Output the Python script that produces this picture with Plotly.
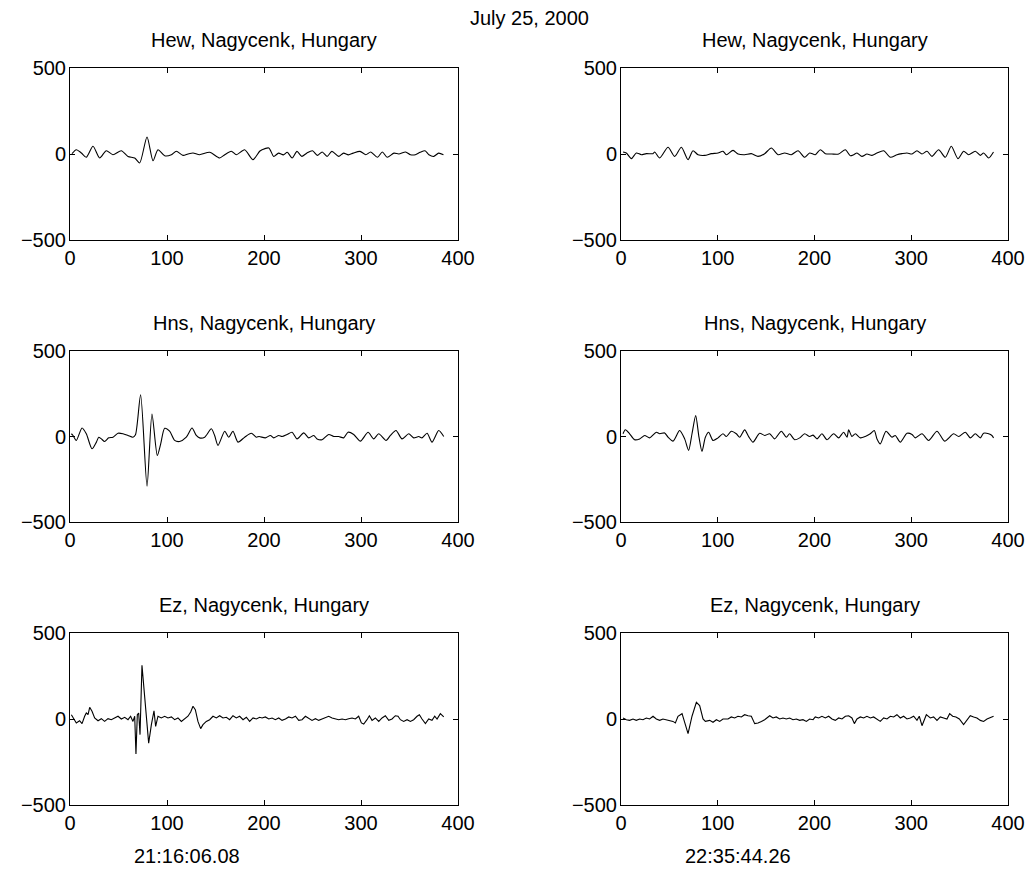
import plotly.graph_objects as go

# ---------------- data ----------------
date_label = "July 25, 2000"
titles = ["Hew, Nagycenk, Hungary", "Hew, Nagycenk, Hungary",
          "Hns, Nagycenk, Hungary", "Hns, Nagycenk, Hungary",
          "Ez, Nagycenk, Hungary", "Ez, Nagycenk, Hungary"]
time_labels = ["21:16:06.08", "22:35:44.26"]
x_ticks = [0, 100, 200, 300, 400]
y_ticks = [-500, 0, 500]

hew_l_x = [2, 6.5, 11.7, 16.8, 23.7, 30.6, 37.4, 44.3, 52.9, 59.8, 66.7, 71.8, 79.4, 85.6, 90.7,
           97.6, 104.5, 109.6, 116.5, 121.6, 126.8, 133.6, 144, 154.3, 159.5, 166.3, 171.5, 180,
           188.6, 195.5, 198, 205, 210, 215, 220, 224, 229, 234, 239, 244, 250, 255, 260, 265,
           270, 277, 282, 287, 292, 299, 305, 310, 317, 322, 327, 334, 339, 346, 351, 356, 361,
           366, 370, 375, 380, 385]
hew_l_y = [2, 25, 6, -19, 45, -23, 19, -4, 19, -14, -23, -52, 99, -39, 25,
           -10, -4, 16, -8, 0, 6, -4, 10, -23, -4, 16, -4, 25,
           -33, 16, 25, 35, -14, 5, -5, 10, -23, 15, -14, 5, 19, -8, 12, -14,
           15, -14, 5, -5, 5, 15, -4, 12, -19, 12, -19, 5, 0, 12, -4, -4, 10,
           19, -4, -14, 5, -4]

hew_r_x = [2.1, 5.5, 10.7, 15.8, 21, 26.2, 33, 34.8, 40, 48.6, 55.5, 62.4, 69.3, 74.4, 79.6,
           86.5, 93.4, 100.3, 105.4, 108.9, 115.8, 121, 127.8, 134.7, 141.6, 148.5, 155.4,
           162.3, 169.2, 176, 183, 189.8, 195, 200.8, 206, 211.2, 218, 225, 231.9, 237, 240.5,
           243.9, 249, 254.2, 259.4, 264.6, 271.5, 278.4, 285.3, 290.4, 295.6, 300.8, 305.9,
           311.1, 316.3, 321.4, 328.3, 335.2, 341.4, 348.3, 354.2, 359.3, 366.2, 371.4, 374.8,
           380, 385]
hew_r_y = [12, 6, -27, 6, -4, 2, 2, 12, -23, 39, -14, 39, -33, 19, -4,
           -8, 2, 6, 16, -4, 21, 0, -4, 2, -14, 2, 35,
           -4, 6, -4, 19, -19, 6, -4, 25, 2, 0, 0, 25, -10, -4,
           6, -14, 0, -8, 6, 19, -19, -4, 2, 6, 0, 19,
           0, 16, -14, 25, -19, 45, -27, 16, -4, 16, -8, 6,
           -23, 12]

hns_l_x = [1.4, 3.1, 6.5, 12.4, 16.8, 22.7, 27.2, 29.6, 32.3, 35.7, 39.9, 44.3, 49.5, 54.6,
           59.8, 64.9, 67.5, 72.8, 79.4, 84.5, 90, 93.5, 97.6, 102.7, 107.9, 113, 119.9, 125.8,
           130.2, 133.6, 138.8, 145.7, 149.1, 152.6, 159.5, 163.6, 168, 173.2, 180.1, 186.9,
           192.1, 195, 201.4, 206.6, 210, 215.2, 218.6, 223.8, 228.9, 234.1, 241, 246.1, 251.3,
           254.7, 259.8, 266.7, 271.9, 277, 282.2, 286.6, 292.5, 299.4, 307.3, 313.1, 318.3,
           325.8, 330.3, 336.1, 342.3, 349.2, 354.3, 359.5, 362.9, 368.1, 373.2, 380.1, 385.3]
hns_l_y = [16, 6, -23, 50, 16, -72, -33, -4, -14, -29, -8, -4, 19, 16,
           6, -4, 10, 244, -291, 132, -111, -43, 48, 31, -23, -29, -4, 50,
           6, -8, -4, 45, 6, -52, 31, -4, 31, -33, -4, 19,
           -4, 0, -8, 6, -8, 6, 0, 12, 25, -14, 21, -8, 6,
           -14, -19, 12, 0, 0, -8, 25, 12, -27, 25, -14, 16,
           -23, 6, 35, -14, 16, -8, 0, -8, 19, -33, 35, 0]

hns_r_x = [2.1, 4.5, 8.9, 14.1, 19.3, 24.5, 29.6, 36.5, 40, 45.1, 48.6, 53.8, 60.6, 65.8,
           69.9, 73.4, 77.2, 80.6, 83.7, 87.2, 90.6, 95.1, 100.3, 105.4, 108.9, 114, 119.2,
           122.7, 127.8, 132.3, 136.4, 143.3, 148.5, 153.7, 158.8, 165.7, 170.9, 174.3, 179.5,
           184.7, 189.8, 195, 198.5, 202.6, 207.7, 212.9, 219.8, 225, 230.1, 233.6, 235.3,
           238.7, 242.2, 247.4, 252.5, 257.7, 261.8, 264.6, 268, 273.9, 280.1, 283.5, 288.7,
           295.6, 300.8, 304.2, 311.1, 318, 326.6, 334.5, 343.8, 349, 355.9, 361, 366.2, 371.4,
           374.8, 380, 383.4, 385.1]
hns_r_y = [16, 39, 16, -19, -14, 6, -8, 25, 16, 21, -4, -27, 35, -14,
           -81, 16, 122, -4, -87, -4, 25, -23, -8, 16, 0, 31, 16,
           -4, 39, -4, -33, 19, 6, 16, -14, 31, -4, 16, -19,
           -8, 16, 0, 8, -14, 16, -19, 16, -8, 25, -4, 39,
           0, 16, -8, 0, 16, 35, -14, -43, 31, -4, 6, -33,
           19, 12, -8, 16, -23, 31, -27, 16, 0, 25, -8, 16, -8,
           19, 16, 6, -8]

ez_l_x = [1.4, 3.1, 6.5, 9.9, 12.4, 15.1, 16.8, 18.6, 20.3, 22.7, 25.4, 28.9, 32.3, 35.7,
          39.2, 42.6, 46, 49.5, 52.9, 56.4, 59.8, 62.5, 64.9, 66.7, 68, 69.4, 70.8, 72.2, 74.2,
          77.7, 81.1, 83.9, 86.6, 88.3, 90.7, 94.1, 97.6, 101, 104.5, 107.9, 111.3, 114.8,
          118.2, 121.6, 124.4, 126.8, 129.2, 131.9, 134.7, 137.1, 140.5, 144, 147.4, 150.9,
          154.3, 157.7, 161.2, 164.6, 168, 171.5, 174.9, 178.4, 181.8, 185.2, 188.7, 192.1,
          195.5, 198, 201.4, 204.9, 208.3, 211.7, 215.2, 218.6, 222.1, 225.5, 228.9, 232.4,
          235.8, 239.2, 242.7, 246.1, 249.5, 253, 256.4, 259.8, 263.3, 266.7, 270.2, 273.6,
          277, 280.5, 283.9, 287.3, 290.8, 294.2, 297.6, 300.4, 302.8, 306.2, 308.6, 311.4,
          314.8, 318.3, 321.7, 325.1, 328.6, 332, 335.4, 338.2, 340.6, 344, 347.5, 350.9,
          354.3, 357.8, 360.2, 362.9, 366.4, 369.8, 373.2, 376, 378.4, 381.8, 385.3]
ez_l_y = [25, 6, -23, -10, -27, 16, 35, 25, 68, 45, 6, -10, 2, -14,
          2, -4, 6, 16, 0, 10, -4, 16, -14, 16, -204, 25, 35, -91, 312,
          64, -140, -33, 48, -43, 16, 6, 16, 6, 12, -4, 6, -14,
          2, 16, 41, 74, 54, -14, -56, -33, -14, -4, 16, 6,
          19, 6, 10, -4, 19, 6, 16, -4, 10, -14, 6, 0,
          10, 6, 12, 0, 6, -4, 6, -8, 0, 12, 6, 16,
          -8, -4, 16, 6, -8, 2, -8, 0, 6, 16, 6, 0,
          -4, 0, -4, 2, 6, 0, 16, -23, -29, -4, 19, -8,
          6, -14, 6, 19, -8, 0, 19, 16, -4, -14, -4, -14,
          -4, 16, 25, 0, -27, 0, -8, 16, 0, 31, 12]

ez_r_x = [2.1, 5.5, 8.9, 12.4, 15.8, 19.3, 22.7, 26.2, 29.6, 33.1, 36.5, 40, 43.4, 46.9,
          50.3, 53.7, 56.2, 58.9, 63.1, 65.8, 69.3, 73.4, 77.9, 81.3, 84.8, 87.2, 91.7, 95.1,
          98.6, 102, 105.4, 110.6, 114, 117.5, 120.9, 124.4, 127.8, 131.3, 134.7, 138.2,
          141.6, 145.1, 148.5, 153.7, 157.1, 160.5, 164, 167.4, 170.9, 174.3, 177.8, 181.2,
          184.7, 188.1, 191.6, 195, 198.5, 200.8, 204.3, 207.7, 211.2, 214.6, 218.1, 221.5,
          225, 228.4, 231.9, 235.3, 238.7, 241.2, 243.9, 247.4, 250.8, 254.2, 257.7, 261.1,
          264.6, 268, 271.5, 274.9, 278.4, 281.8, 285.2, 288.7, 292.1, 295.6, 299, 302.5,
          305.9, 308.3, 311.1, 315.6, 319.7, 323.1, 326.6, 330, 333.5, 336.9, 339.7, 342.8,
          346.2, 349.7, 354.1, 357.6, 361, 364.5, 367.9, 371.4, 374.8, 378.3, 381.7, 385.1]
ez_r_y = [6, -4, -8, 0, -8, 0, -4, 6, 0, 16, 0, -8, 0, -4,
          -8, -14, -23, 16, 31, -23, -85, 16, 97, 78, 0, -14, -8, -19,
          -4, -14, 0, 0, 12, 6, 16, 12, 25, 19, 16, -27,
          -23, -14, -4, 19, 6, 12, 0, 6, 0, 6, -4, 0,
          -8, -4, -14, 0, -4, 12, 6, 16, 6, 16, 0, -8,
          6, 0, 16, 19, 6, -27, 0, 12, 6, 16, 6, 12,
          -4, -14, 6, 0, 16, 12, 25, 6, 16, 0, 6, 16,
          -8, 16, -39, 25, 6, 12, -8, 12, 6, 0, 31, 16,
          12, 0, -33, -4, 19, 12, 6, -8, -14, 0, 6, 16]

# ---------------- layout (pixel geometry) ----------------
# The page body adds an 8 px margin, so the figure is drawn 8 px smaller and
# every screen-pixel target is shifted by OFF.
OFF = 8
W, H = 1036 - OFF, 869 - OFF
col_px = [(70, 458), (621, 1008)]
row_px = [(68, 240), (351, 522), (633, 805)]
FONT = "Liberation Sans, Arial, Helvetica, sans-serif"


def px(xs):
    return (xs - OFF) / W


def py(ys):
    return 1 - (ys - OFF) / H


series = [(hew_l_x, hew_l_y, "spline"), (hew_r_x, hew_r_y, "spline"),
          (hns_l_x, hns_l_y, "spline"), (hns_r_x, hns_r_y, "spline"),
          (ez_l_x, ez_l_y, "linear"), (ez_r_x, ez_r_y, "linear")]

fig = go.Figure()
annotations = []
for i, (xs, ys, shape) in enumerate(series):
    r, c = divmod(i, 2)
    n = "" if i == 0 else str(i + 1)
    line = dict(color="black", width=1.1, shape=shape)
    if shape == "spline":
        line["smoothing"] = 0.7
    fig.add_trace(go.Scatter(x=xs, y=ys, mode="lines", line=line,
                             xaxis="x" + n, yaxis="y" + n, showlegend=False,
                             hoverinfo="skip"))
    x0, x1 = col_px[c]
    y0, y1 = row_px[r]
    common = dict(showline=True, linecolor="black", linewidth=1, mirror="ticks",
                  ticks="inside", ticklen=5, tickcolor="black", showgrid=False,
                  zeroline=False, automargin=False,
                  tickfont=dict(family=FONT, size=20, color="black"))
    fig.layout["xaxis" + n] = dict(domain=[px(x0), px(x1)], range=[0, 400],
                                   tickvals=x_ticks, anchor="y" + n, **common)
    fig.layout["yaxis" + n] = dict(domain=[py(y1), py(y0)], range=[-500, 500],
                                   tickvals=y_ticks, anchor="x" + n,
                                   ticklabelstandoff=-1, **common)
    annotations.append(dict(text=titles[i], x=px((x0 + x1) / 2), y=py(y0 - 28),
                            xref="paper", yref="paper", xanchor="center", yanchor="middle",
                            showarrow=False, font=dict(family=FONT, size=20, color="black")))

for c in range(2):
    x0, x1 = col_px[c]
    annotations.append(dict(text=time_labels[c], x=px(x0 + (x1 - x0) * 121 / 400),
                            y=py(856), xref="paper", yref="paper", xanchor="center",
                            yanchor="middle", showarrow=False,
                            font=dict(family=FONT, size=20, color="black")))

annotations.append(dict(text=date_label, x=px(529), y=py(18), xref="paper", yref="paper",
                        xanchor="center", yanchor="middle", showarrow=False,
                        font=dict(family=FONT, size=20, color="black")))

fig.update_layout(template="none", width=W, height=H,
                  margin=dict(l=0, r=0, t=0, b=0, pad=0, autoexpand=False),
                  paper_bgcolor="white", plot_bgcolor="white",
                  annotations=annotations, font=dict(family=FONT, color="black"))

fig.write_html("out.html")
